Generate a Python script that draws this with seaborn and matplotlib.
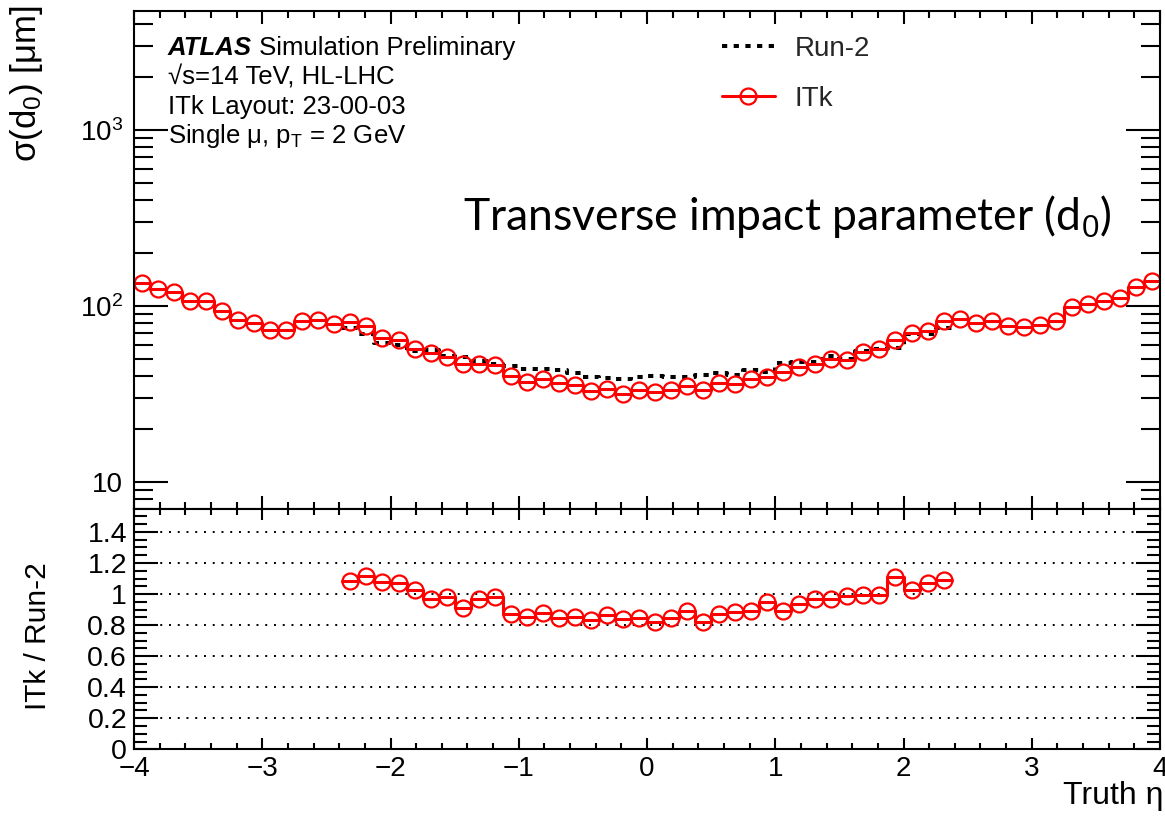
import numpy as np
import pandas as pd
import matplotlib
matplotlib.use("Agg")
import matplotlib.pyplot as plt
import seaborn as sns
from matplotlib.lines import Line2D
from matplotlib.ticker import MultipleLocator, LogLocator, FuncFormatter, NullFormatter

# ---------------- data ----------------
eta_lo, eta_hi, bin_w = -4.0, 4.0, 0.125

itk_sigma = [135.6, 124.4, 119.6, 107.2, 107.2, 94.0, 83.3, 79.7, 73.1, 73.1,
             82.2, 82.9, 78.7, 81.1, 77.3, 66.1, 64.1, 56.8, 54.3, 51.1,
             47.0, 47.0, 46.0, 40.0, 37.1, 38.6, 36.7, 35.6, 32.9, 33.7,
             31.5, 33.3, 32.6, 33.3, 35.1, 33.3, 36.4, 35.9, 38.4, 39.7,
             42.3, 44.9, 46.7, 50.0, 49.4, 55.0, 56.8, 64.1, 70.5, 72.4,
             82.2, 84.0, 80.4, 82.2, 77.3, 76.3, 77.6, 82.5, 99.1, 102.7,
             107.2, 111.5, 128.8, 139.3]

run2_first_bin = 13
run2_sigma = [75.0, 69.4, 61.5, 59.9, 55.3, 56.0, 52.2, 51.6, 48.6,
              47.0, 45.8, 43.6, 44.0, 43.2, 41.6, 39.4, 39.1, 38.5, 39.2,
              39.9, 39.4, 39.5, 40.5, 41.8, 40.6, 43.0, 42.0, 47.3, 47.9,
              48.2, 51.7, 50.2, 55.5, 57.1, 57.7, 69.0, 69.0, 75.3]

ratio_itk_run2 = [1.081, 1.114, 1.075, 1.071, 1.028, 0.970, 0.979, 0.910, 0.967, 0.979,
                  0.873, 0.850, 0.877, 0.849, 0.855, 0.834, 0.862, 0.839, 0.849, 0.817,
                  0.845, 0.888, 0.823, 0.870, 0.884, 0.892, 0.946, 0.894, 0.937, 0.968,
                  0.968, 0.985, 0.991, 0.995, 1.110, 1.023, 1.071, 1.092]

legend_labels = ["Run-2", "ITk"]
y_ticks_ratio = [0, 0.2, 0.4, 0.6, 0.8, 1.0, 1.2, 1.4]

# ---------------- style ----------------
sns.set_theme(style="ticks")
plt.rcParams['font.family'] = ['Liberation Sans', 'DejaVu Sans']
plt.rcParams['mathtext.fontset'] = 'custom'
plt.rcParams['mathtext.rm'] = 'Liberation Sans'
plt.rcParams['mathtext.it'] = 'Liberation Sans:italic'
plt.rcParams['mathtext.bf'] = 'Liberation Sans:bold'
plt.rcParams['axes.unicode_minus'] = True

edges = np.arange(eta_lo, eta_hi + bin_w / 2, bin_w)
centers = edges[:-1] + bin_w / 2
n_r = len(run2_sigma)
r_edges = edges[run2_first_bin:run2_first_bin + n_r + 1]
r_centers = centers[run2_first_bin:run2_first_bin + n_r]

df_itk = pd.DataFrame({"eta": centers, "sigma": itk_sigma})
df_run2 = pd.DataFrame({"eta": r_centers, "sigma": run2_sigma, "ratio": ratio_itk_run2})

W, H = 1165, 819
fig = plt.figure(figsize=(W / 100, H / 100), dpi=100)
fig.patch.set_facecolor("white")


def fx(px):
    return px / W


def fy(py):
    return 1 - py / H


L, R = 134, 1160
T1, B1 = 10.5, 509
T2, B2 = 509, 749.3
ax1 = fig.add_axes([fx(L), fy(B1), fx(R) - fx(L), fy(T1) - fy(B1)])
ax2 = fig.add_axes([fx(L), fy(B2), fx(R) - fx(L), fy(T2) - fy(B2)])

dots = (0, (1.3, 1.6))
red = "#ff0000"
msize = 11.5

# ---------------- upper panel ----------------
sns.histplot(data=df_run2, x="eta", weights="sigma", bins=list(r_edges), element="step",
             fill=False, color="black", linewidth=2.9, linestyle=dots, ax=ax1)
sns.histplot(data=df_itk, x="eta", weights="sigma", bins=list(edges), element="step",
             fill=False, color=red, linewidth=2.2, ax=ax1)
sns.lineplot(data=df_itk, x="eta", y="sigma", marker="o", linestyle="", markersize=msize,
             markerfacecolor="none", markeredgecolor=red, markeredgewidth=1.6, ax=ax1)
ax1.set_yscale("log")
ax1.set_xlim(eta_lo, eta_hi)
ax1.set_ylim(7, 4800)

# ---------------- ratio panel ----------------
sns.histplot(data=df_run2, x="eta", weights="ratio", bins=list(r_edges), element="step",
             fill=False, color=red, linewidth=2.2, ax=ax2)
sns.lineplot(data=df_run2, x="eta", y="ratio", marker="o", linestyle="", markersize=msize,
             markerfacecolor="none", markeredgecolor=red, markeredgewidth=1.6, ax=ax2)
ax2.set_xlim(eta_lo, eta_hi)
ax2.set_ylim(0, 1.548)
for yv in y_ticks_ratio[1:]:
    ax2.axhline(yv, color="black", linestyle=(0, (1, 3.5)), linewidth=1.4, zorder=0.5)

# ---------------- axes cosmetics ----------------
for ax in (ax1, ax2):
    for s in ax.spines.values():
        s.set_linewidth(1.5)
        s.set_color("black")
    ax.tick_params(which="both", direction="in", top=True, right=True, width=1.5,
                   color="black", labelcolor="black")
    ax.xaxis.set_major_locator(MultipleLocator(1))
    ax.xaxis.set_minor_locator(MultipleLocator(0.2))

ax1.tick_params(axis="x", which="major", length=9.5, labelbottom=False)
ax1.tick_params(axis="x", which="minor", length=5)
ax1.tick_params(axis="y", which="major", length=24.5, pad=8, labelsize=20)
ax1.tick_params(axis="y", which="minor", length=14)
ax1.yaxis.set_major_locator(LogLocator(base=10))
ax1.yaxis.set_minor_locator(LogLocator(base=10, subs=np.arange(2, 10)))
ax1.yaxis.set_major_formatter(FuncFormatter(
    lambda v, p: "10" if abs(v - 10) < 1e-6 else r"$10^{%d}$" % int(round(np.log10(v)))))
ax1.yaxis.set_minor_formatter(NullFormatter())

ax2.tick_params(axis="x", which="major", length=8, pad=4.8, labelsize=20)
ax2.tick_params(axis="x", which="minor", length=4)
ax2.tick_params(axis="y", which="major", length=17, pad=5, labelsize=20.5)
ax2.tick_params(axis="y", which="minor", length=9.4)
ax2.yaxis.set_major_locator(MultipleLocator(0.2))
ax2.yaxis.set_minor_locator(MultipleLocator(0.05))
ax2.yaxis.set_major_formatter(FuncFormatter(lambda v, p: "%g" % round(v, 3)))

ax1.set_xlabel("")
ax1.set_ylabel("σ(d$_0$) [μm]", fontsize=25, loc="top", color="black")
ax1.yaxis.set_label_coords(-0.0867, 1.01)
ax2.set_ylabel("ITk / Run-2", fontsize=21.5, color="black")
ax2.yaxis.set_label_coords(-0.0802, 0.472)
ax2.set_xlabel("Truth η", fontsize=23, loc="right", color="black")
ax2.xaxis.set_label_coords(1.003, -0.132)

# ---------------- legend ----------------
h_run2 = Line2D([], [], color="black", linewidth=2.9, linestyle=dots)
h_itk = Line2D([], [], color=red, linewidth=2.2, marker="o", markersize=msize,
               markerfacecolor="none", markeredgecolor=red, markeredgewidth=1.6)
ax1.legend([h_run2, h_itk], legend_labels, loc="upper left",
           bbox_to_anchor=(fx(722), fy(36)), bbox_transform=fig.transFigure,
           frameon=False, fontsize=20, handlelength=1.9, handletextpad=0.72,
           labelspacing=0.85, borderaxespad=0, borderpad=0)

# ---------------- texts ----------------
atlas = fig.text(fx(168), fy(55), "ATLAS", fontsize=18.5, fontweight="bold",
                 fontstyle="italic", va="baseline", color="black")
ax1.annotate(" Simulation Preliminary", xy=(1, 0), xycoords=atlas, va="bottom",
             ha="left", fontsize=18.5, color="black")
fig.text(fx(168), fy(85), "√s=14 TeV, HL-LHC", fontsize=18.5, va="baseline", color="black")
fig.text(fx(168), fy(114.4), "ITk Layout: 23-00-03", fontsize=18.5, va="baseline", color="black")
fig.text(fx(168), fy(143.5), r"Single μ, p$_\mathrm{T}$ = 2 GeV", fontsize=18.5,
         va="baseline", color="black")
fig.text(fx(463), fy(230), "Transverse impact parameter (d$_0$)", fontsize=32,
         family=["Lato", "DejaVu Sans"], va="baseline", color="black")

fig.savefig("out.png", dpi=100, facecolor="white")
